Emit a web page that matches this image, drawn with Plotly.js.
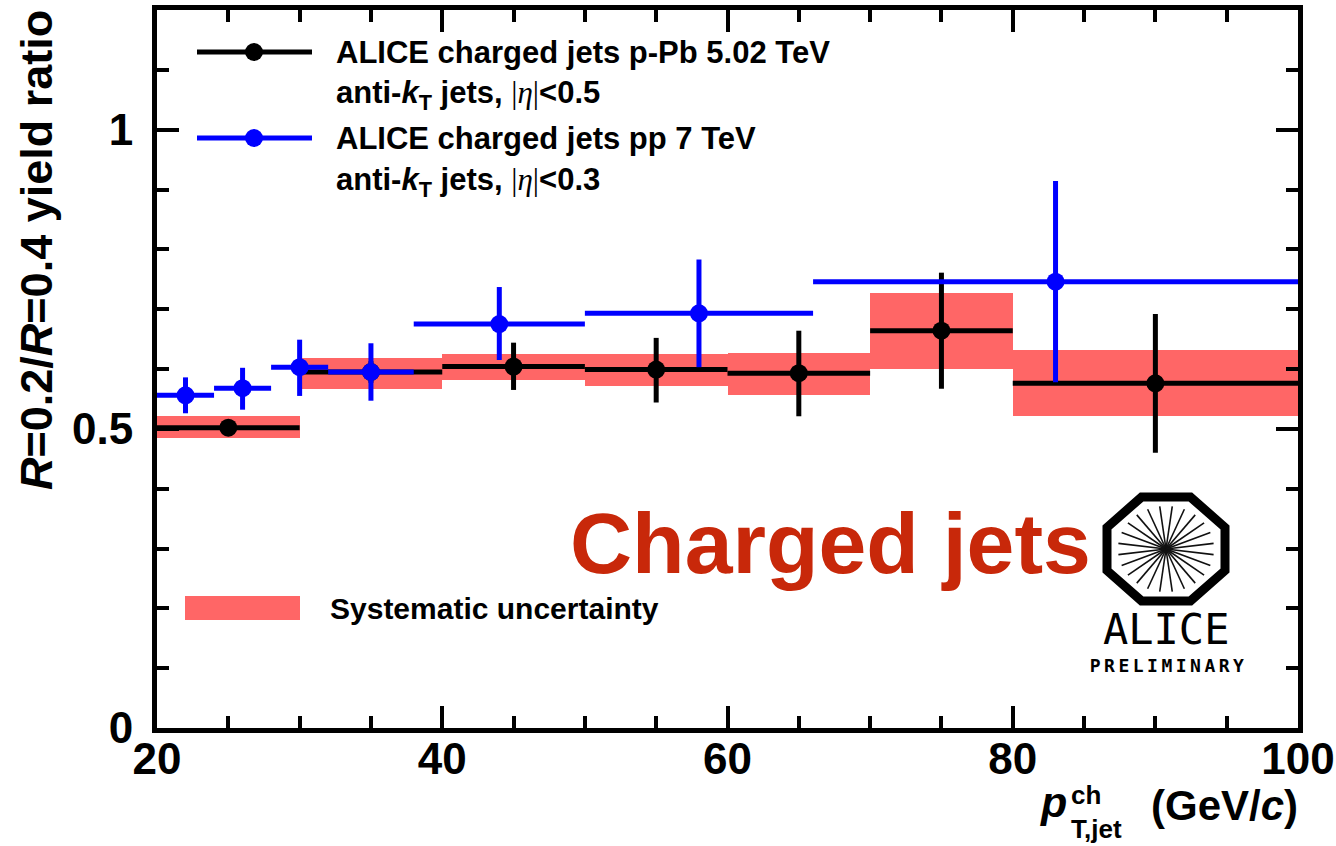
<!DOCTYPE html>
<html>
<head>
<meta charset="utf-8">
<script src="https://cdn.plot.ly/plotly-3.0.1.min.js"></script>
<style>
html,body{margin:0;padding:0;background:#fff;}
#chart{width:1336px;height:846px;}
</style>
</head>
<body>
<div id="chart"></div>
<script>
// ---------- data: ALICE charged jets p-Pb 5.02 TeV ----------
const ppbX      = [25, 35, 45, 55, 65, 75, 90];
const ppbBinLo  = [20, 30, 40, 50, 60, 70, 80];
const ppbBinHi  = [30, 40, 50, 60, 70, 80, 100];
const ppbY      = [0.502, 0.595, 0.604, 0.599, 0.593, 0.664, 0.576];
const ppbErrUp  = [0.010, 0.018, 0.040, 0.053, 0.071, 0.097, 0.116];
const ppbErrDn  = [0.010, 0.018, 0.039, 0.055, 0.072, 0.097, 0.116];
const ppbSysLo  = [0.484, 0.567, 0.582, 0.571, 0.557, 0.600, 0.522];
const ppbSysHi  = [0.522, 0.619, 0.625, 0.625, 0.627, 0.727, 0.632];

// ---------- data: ALICE charged jets pp 7 TeV ----------
const ppX      = [22, 26, 30, 35, 44, 58, 83];
const ppBinLo  = [20, 24, 28, 32, 38, 50, 66];
const ppBinHi  = [24, 28, 32, 38, 50, 66, 100];
const ppY      = [0.556, 0.568, 0.603, 0.595, 0.675, 0.693, 0.746];
const ppErrUp  = [0.030, 0.034, 0.046, 0.048, 0.062, 0.090, 0.168];
const ppErrDn  = [0.030, 0.036, 0.048, 0.048, 0.060, 0.090, 0.168];

// ---------- axis ticks ----------
const xTickStep = 20, xMinorStep = 5;
const yTickStep = 0.5, yMinorStep = 0.1;

// ---------- layout helpers (pixel -> paper) ----------
const L = 157, R = 1298, T = 10, B = 728;
const px = v => (v - L) / (R - L);
const py = v => (B - v) / (B - T);

const FONT = 'Liberation Sans, Arial, sans-serif';
const SYS = '#ff6666';

const traces = [
  {
    type: 'bar',
    x: ppbBinLo.map((lo, i) => (lo + ppbBinHi[i]) / 2),
    width: ppbBinLo.map((lo, i) => ppbBinHi[i] - lo),
    base: ppbSysLo,
    y: ppbSysHi.map((h, i) => h - ppbSysLo[i]),
    marker: {color: SYS, line: {width: 0}},
    hoverinfo: 'skip', showlegend: false
  },
  {
    type: 'scatter', mode: 'markers',
    x: ppbX, y: ppbY,
    marker: {color: '#000', size: 18},
    error_x: {type: 'data', symmetric: false,
      array: ppbBinHi.map((h, i) => h - ppbX[i]),
      arrayminus: ppbBinLo.map((l, i) => ppbX[i] - l),
      width: 0, thickness: 5, color: '#000'},
    error_y: {type: 'data', symmetric: false, array: ppbErrUp, arrayminus: ppbErrDn,
      width: 0, thickness: 5, color: '#000'},
    showlegend: false
  },
  {
    type: 'scatter', mode: 'markers',
    x: ppX, y: ppY,
    marker: {color: '#0000ff', size: 18},
    error_x: {type: 'data', symmetric: false,
      array: ppBinHi.map((h, i) => h - ppX[i]),
      arrayminus: ppBinLo.map((l, i) => ppX[i] - l),
      width: 0, thickness: 5, color: '#0000ff'},
    error_y: {type: 'data', symmetric: false, array: ppErrUp, arrayminus: ppErrDn,
      width: 0, thickness: 5, color: '#0000ff'},
    showlegend: false
  }
];

const axisCommon = {
  showline: true, linewidth: 5, linecolor: '#000', mirror: 'allticks',
  ticks: 'inside', ticklen: 22, tickwidth: 4, tickcolor: '#000',
  showgrid: false, zeroline: false,
  tickfont: {family: FONT, size: 44, color: '#000', weight: 'bold'}
};

const shapes = [];
const ann = [];

// legend: line + marker symbols
function legendSymbol(yPix, color) {
  shapes.push({type: 'line', xref: 'paper', yref: 'paper',
    x0: px(197), x1: px(312), y0: py(yPix), y1: py(yPix),
    line: {color: color, width: 5}});
  shapes.push({type: 'circle', xref: 'paper', yref: 'paper',
    x0: px(245), x1: px(263), y0: py(yPix - 9), y1: py(yPix + 9),
    fillcolor: color, line: {color: color, width: 0}});
}
legendSymbol(52, '#000');
legendSymbol(138, '#0000ff');
shapes.push({type: 'rect', xref: 'paper', yref: 'paper',
  x0: px(185), x1: px(300), y0: py(620), y1: py(596),
  fillcolor: SYS, line: {width: 0}});

function textAnn(text, xPix, yPix, size, opts) {
  ann.push(Object.assign({
    text: text, xref: 'paper', yref: 'paper', x: px(xPix), y: py(yPix),
    xanchor: 'left', yanchor: 'middle', showarrow: false,
    font: {family: FONT, size: size, color: '#000', weight: 'bold'}
  }, opts || {}));
}
const eta = '<span style="font-family:Liberation Serif;font-weight:normal">|<i>η</i>|</span>';
textAnn('ALICE charged jets p-Pb 5.02 TeV', 334, 52, 31);
textAnn('anti-<i>k</i><sub>T</sub> jets, ' + eta + '&lt;0.5', 334, 95, 31);
textAnn('ALICE charged jets pp 7 TeV', 334, 138, 31);
textAnn('anti-<i>k</i><sub>T</sub> jets, ' + eta + '&lt;0.3', 334, 182, 31);
textAnn('Systematic uncertainty', 328, 608, 30);

// big label
textAnn('Charged jets', 568, 543, 86, {font: {family: FONT, size: 86, color: '#c8280a', weight: 'bold'}});

// axis titles
textAnn('<i>R</i>=0.2/<i>R</i>=0.4 yield ratio', 37, 250, 45, {xanchor: 'center', textangle: -90});
textAnn('<i>p</i>', 1038, 802, 43);
textAnn('ch', 1069, 795, 26);
textAnn('T,jet', 1069, 829, 26);
textAnn('(GeV/<i>c</i>)', 1300, 805, 42, {xanchor: 'right'});

// preliminary id (cut at bottom)
textAnn('ALI−PREL−54601', -4, 857, 26, {font: {family: FONT, size: 26, color: '#aaaaaa', weight: 'bold'}});

// ALICE logo
const cx = 1166, cy = 549, ax = 59, ay = 52, k = 0.414;
const oct = [[-ax*k, -ay], [ax*k, -ay], [ax, -ay*k], [ax, ay*k], [ax*k, ay], [-ax*k, ay], [-ax, ay*k], [-ax, -ay*k]];
shapes.push({type: 'path', xref: 'paper', yref: 'paper',
  path: 'M ' + oct.map(p => px(cx + p[0]) + ',' + py(cy + p[1])).join(' L ') + ' Z',
  line: {color: '#000', width: 9}, fillcolor: 'rgba(0,0,0,0)'});
for (let i = 0; i < 24; i++) {
  const a = (i + 0.5) * Math.PI / 12;
  shapes.push({type: 'line', xref: 'paper', yref: 'paper',
    x0: px(cx), y0: py(cy), x1: px(cx + 48 * Math.cos(a)), y1: py(cy + 43 * Math.sin(a)),
    line: {color: '#111', width: 1.6}});
}
textAnn('ALICE', 1166, 629, 42, {xanchor: 'center', font: {family: 'DejaVu Sans Mono', size: 42, color: '#000'}});
textAnn('PRELIMINARY', 1168, 665, 18, {xanchor: 'center', font: {family: 'DejaVu Sans Mono', size: 18, color: '#000', weight: 'bold'}});

const layout = {
  width: 1336, height: 846,
  margin: {l: L, r: 1336 - R, t: T, b: 846 - B, pad: 0},
  paper_bgcolor: '#fff', plot_bgcolor: '#fff',
  showlegend: false, barmode: 'overlay', bargap: 0,
  xaxis: Object.assign({}, axisCommon, {
    range: [20, 100], tick0: 20, dtick: xTickStep, ticklabelstandoff: -12,
    minor: {ticks: 'inside', ticklen: 12, tickwidth: 4, tickcolor: '#000', dtick: xMinorStep, showgrid: false}
  }),
  yaxis: Object.assign({}, axisCommon, {
    range: [0, 1.2], tick0: 0, dtick: yTickStep, ticklabelstandoff: 10,
    minor: {ticks: 'inside', ticklen: 12, tickwidth: 4, tickcolor: '#000', dtick: yMinorStep, showgrid: false}
  }),
  shapes: shapes,
  annotations: ann
};

Plotly.newPlot('chart', traces, layout, {displayModeBar: false, staticPlot: true}).then(() => {
  document.querySelectorAll('.annotation-text').forEach(el => {
    if (el.textContent === 'PRELIMINARY') el.style.letterSpacing = '3.5px';
  });
});
</script>
</body>
</html>
